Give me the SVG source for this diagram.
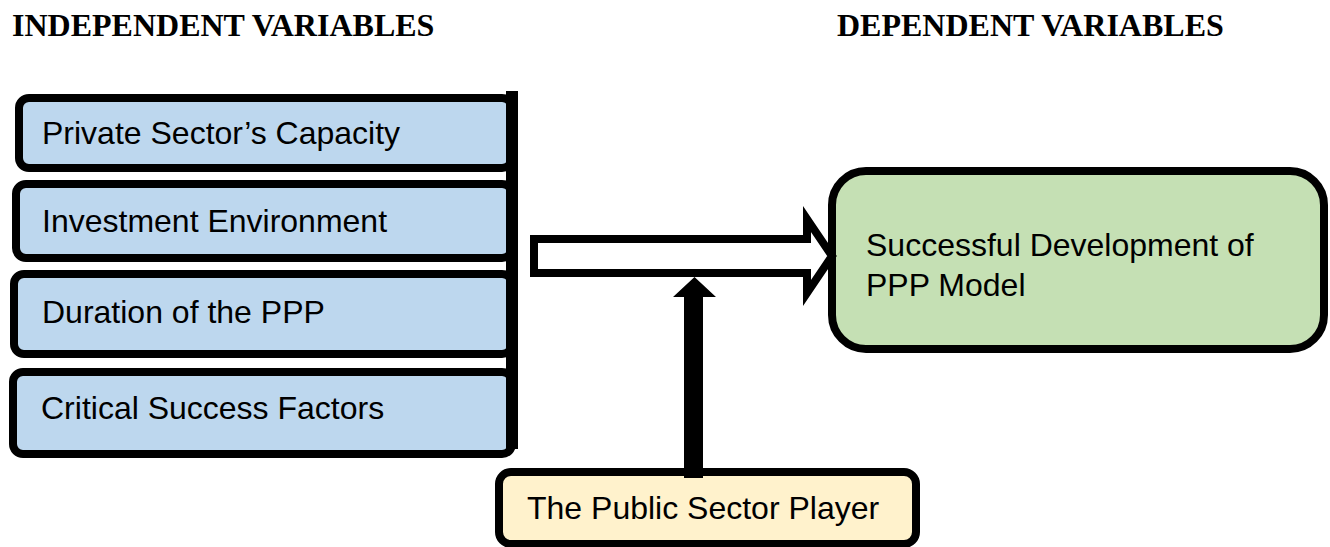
<svg xmlns="http://www.w3.org/2000/svg" width="1330" height="547" viewBox="0 0 1330 547">
  <style>
    .heading { font-family: "Liberation Serif", "Times New Roman", serif; font-weight: bold; font-size: 32px; fill: #000; }
    .label { font-family: "Liberation Sans", Arial, sans-serif; font-size: 32px; fill: #000; }
    .box { stroke: #000; stroke-width: 8; }
    .indep { fill: #BDD7EE; }
    .dep { fill: #C5E0B4; }
    .mod { fill: #FFF2CC; }
  </style>
  <rect width="1330" height="547" fill="#fff"/>

  <text class="heading" x="12" y="36">INDEPENDENT VARIABLES</text>
  <text class="heading" x="837" y="36">DEPENDENT VARIABLES</text>

  <!-- independent variable boxes -->
  <g id="private-sector-capacity">
    <rect class="box indep" x="19" y="98" width="493" height="70" rx="10"/>
    <text class="label" x="42" y="144">Private Sector’s Capacity</text>
  </g>
  <g id="investment-environment">
    <rect class="box indep" x="16" y="184" width="496" height="74" rx="10"/>
    <text class="label" x="42" y="232">Investment Environment</text>
  </g>
  <g id="duration-ppp">
    <rect class="box indep" x="14" y="274" width="498" height="80" rx="10"/>
    <text class="label" x="42" y="323">Duration of the PPP</text>
  </g>
  <g id="critical-success-factors">
    <rect class="box indep" x="13" y="372" width="499" height="82" rx="10"/>
    <text class="label" x="41" y="419">Critical Success Factors</text>
  </g>

  <!-- dependent variable -->
  <g id="successful-development">
    <rect class="box dep" x="832" y="171" width="492" height="178" rx="34"/>
    <text class="label" x="866" y="256">Successful Development of</text>
    <text class="label" x="866" y="296">PPP Model</text>
  </g>

  <!-- moderating variable -->
  <g id="public-sector-player">
    <rect class="box mod" x="499" y="472" width="417" height="72" rx="12"/>
    <text class="label" x="527" y="519">The Public Sector Player</text>
  </g>

  <g id="connectors">
    <!-- bracket joining the independent variables -->
    <rect x="506" y="91" width="12" height="358" fill="#000"/>
    <!-- hollow block arrow to the dependent variable -->
    <path d="M534,239 L807,239 L807,219 L832,256 L807,293 L807,273 L534,273 Z" fill="#fff" stroke="#000" stroke-width="8" stroke-linejoin="miter"/>
    <!-- solid arrow from the public sector player -->
    <path d="M684,478 L684,297 L673,297 L694.5,277 L716,297 L703,297 L703,478 Z" fill="#000"/>
  </g>
</svg>
